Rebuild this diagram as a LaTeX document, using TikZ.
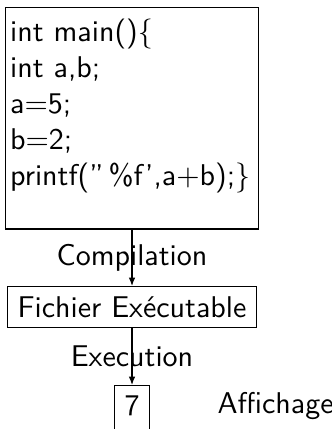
\documentclass[tikz,border=0pt]{standalone}
\usetikzlibrary{arrows.meta}
\begin{document}
\begin{tikzpicture}[x=0.33333pt,y=-0.33333pt,font=\sffamily,
  box/.style={draw,line width=0.4pt},
  flow/.style={-{Latex[length=2.8pt,width=2.2pt]},line width=0.4pt}]
\useasboundingbox (0,0) rectangle (331,429);
\node[box, minimum width=84.33pt, minimum height=73.83pt, inner sep=0] (code) at (132,118.25) {};
\node[anchor=north west, align=left, inner sep=0] (codetext) at (9.5,18.5)
  {int main()\{\\int a,b;\\a=5;\\b=2;\\printf(''\,\%f',a+b);\}};
\node[box, anchor=north] (exe) at (132,286) {Fichier Exécutable};
\node[box, anchor=north, text depth=6pt] (res) at (132,385) {7};
\node[anchor=base west, inner sep=0] (aff) at (217,413) {Affichage};
\draw[flow] (code.south) -- node {Compilation} (exe.north);
\draw[flow] (exe.south) -- node {Execution} (res.north);
\end{tikzpicture}
\end{document}
